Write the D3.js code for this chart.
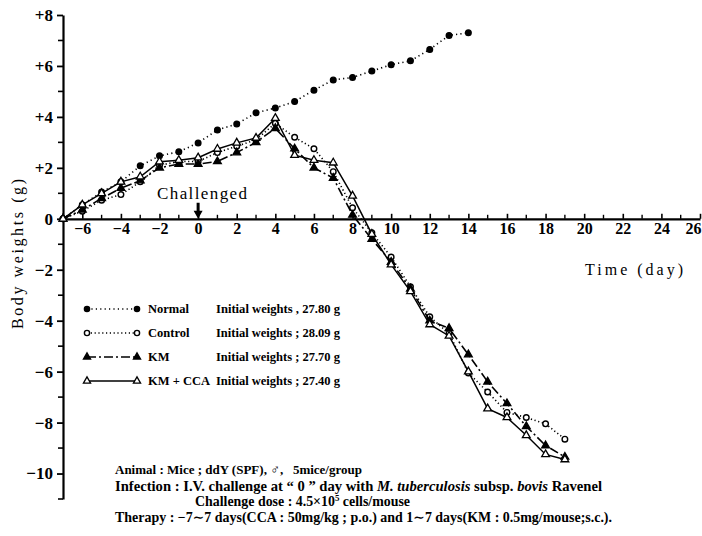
<!DOCTYPE html>
<html><head><meta charset="utf-8">
<script src="https://cdn.jsdelivr.net/npm/d3@7"></script>
<style>body{margin:0;background:#fff}svg{display:block}</style>
</head><body>
<svg id="c" width="702" height="536"></svg>
<script>
// ---------------- data ----------------
const daysNormal = [-7,-6,-5,-4,-3,-2,-1,0,1,2,3,4,5,6,7,8,9,10,11,12,13,14];
const normal     = [0,0.55,1.05,1.45,2.08,2.47,2.63,2.98,3.49,3.72,4.16,4.35,4.6,5.05,5.45,5.55,5.8,6.05,6.2,6.65,7.2,7.3];
const daysInf    = [-7,-6,-5,-4,-3,-2,-1,0,1,2,3,4,5,6,7,8,9,10,11,12,13,14,15,16,17,18,19];
const control    = [0,0.3,0.73,0.95,1.45,2.1,2.25,2.25,2.6,2.85,3.1,3.75,3.2,2.75,1.85,0.43,-0.55,-1.5,-2.67,-3.85,-4.5,-6.05,-6.8,-7.6,-7.8,-8.05,-8.65];
const km         = [0,0.35,0.8,1.2,1.5,2.0,2.15,2.15,2.25,2.6,3.0,3.55,2.75,2.0,1.6,0.15,-0.8,-1.7,-2.75,-4.0,-4.3,-5.33,-6.4,-7.25,-8.15,-8.9,-9.35];
const kmcca      = [0,0.55,1.0,1.45,1.65,2.24,2.3,2.4,2.74,2.98,3.17,3.95,2.5,2.3,2.2,0.9,-0.6,-1.8,-2.85,-4.15,-4.6,-6.0,-7.45,-7.8,-8.5,-9.25,-9.45];

const yTickValues = [8,6,4,2,0,-2,-4,-6,-8,-10];
const yMinorTicks = [7,5,3,1,-1,-3,-5,-7,-9,-11];
const xTickValues = [-6,-4,-2,0,2,4,6,8,10,12,14,16,18,20,22,24,26];
const xMinorTicks = [-7,-5,-3,-1,1,3,5,7,9,11,13,15,17,19,21,23,25];

const seriesNames   = ["Normal","Control","KM","KM + CCA"];
const seriesWeights = ["Initial weights , 27.80 g","Initial weights ; 28.09 g","Initial weights ; 27.70 g","Initial weights ; 27.40 g"];

const yTitle = "Body weights (g)";
const xTitle = "Time (day)";
const eventLabel = "Challenged";
const eventDay = 0;

// ---------------- drawing ----------------
const svg = d3.select("#c");
const serif = "'Liberation Serif','DejaVu Serif',serif";
const x = d3.scaleLinear().domain([-7, 26]).range([63, 700]);
const y = d3.scaleLinear().domain([-11, 8]).range([499, 15]);

const series = [
  {name: seriesNames[0], w: seriesWeights[0], days: daysNormal, vals: normal, dash: "1.2,3.2", marker: "circle", fill: "#000"},
  {name: seriesNames[1], w: seriesWeights[1], days: daysInf, vals: control, dash: "1.2,2.6", marker: "circle", fill: "#fff"},
  {name: seriesNames[2], w: seriesWeights[2], days: daysInf, vals: km, dash: "9,3,2,3", marker: "triangle", fill: "#000"},
  {name: seriesNames[3], w: seriesWeights[3], days: daysInf, vals: kmcca, dash: null, marker: "triangle", fill: "#fff"}
];

// Y axis
const yAxis = d3.axisLeft(y).tickValues(yTickValues).tickSizeInner(6).tickSizeOuter(0)
  .tickFormat(d => d > 0 ? "+" + d : (d < 0 ? "\u2212" + Math.abs(d) : "0"));
const gy = svg.append("g").attr("transform", `translate(${x(-7)},0)`).call(yAxis);
gy.select(".domain").attr("stroke-width", 2.2);
gy.selectAll(".tick line").attr("stroke-width", 1.8);
gy.selectAll(".tick text").attr("font-family", serif).attr("font-weight", "bold")
  .attr("font-size", 17).attr("fill", "#000").attr("x", -10);
gy.selectAll(".minor").data(yMinorTicks).enter().append("line")
  .attr("x1", -5).attr("x2", 0).attr("y1", d => y(d)).attr("y2", d => y(d))
  .attr("stroke", "#000").attr("stroke-width", 1.6);

// X axis at 0
const xAxis = d3.axisBottom(x).tickValues(xTickValues).tickSizeInner(-5).tickSizeOuter(0)
  .tickFormat(d => d < 0 ? "\u2212" + Math.abs(d) : String(d));
const gx = svg.append("g").attr("transform", `translate(0,${y(0)})`).call(xAxis);
gx.select(".domain").attr("stroke-width", 2.2);
gx.selectAll(".tick line").attr("stroke-width", 1.6);
gx.selectAll(".tick text").attr("font-family", serif).attr("font-weight", "bold")
  .attr("font-size", 16).attr("fill", "#000").attr("y", 4)
  .attr("text-anchor", d => d === 26 ? "end" : "middle")
  .attr("x", d => d === 26 ? 701 - x(26) : 0);
gx.selectAll(".minor").data(xMinorTicks).enter().append("line")
  .attr("x1", d => x(d)).attr("x2", d => x(d)).attr("y1", -4).attr("y2", 0)
  .attr("stroke", "#000").attr("stroke-width", 1.4);

// Titles
svg.append("text").attr("transform", `translate(23,${254}) rotate(-90)`)
  .attr("text-anchor", "middle").attr("font-family", serif).attr("font-size", 16)
  .attr("textLength", 150).attr("lengthAdjust", "spacing").text(yTitle);
svg.append("text").attr("x", 585).attr("y", 275).attr("font-family", serif)
  .attr("font-size", 16).attr("textLength", 98).attr("lengthAdjust", "spacing").text(xTitle);

// Challenged label + arrow
svg.append("text").attr("x", 157).attr("y", 199).attr("font-family", serif).attr("font-size", 17)
  .attr("textLength", 90).attr("lengthAdjust", "spacing").text(eventLabel);
const ax = x(eventDay), ay = y(0);
svg.append("path")
  .attr("d", `M${ax-1.5},${ay-16} L${ax+1.5},${ay-16} L${ax+1.5},${ay-8} L${ax+4.5},${ay-8} L${ax},${ay} L${ax-4.5},${ay-8} L${ax-1.5},${ay-8} Z`)
  .attr("fill", "#000");

// Markers
function drawMarker(g, s, px, py, small) {
  if (s.marker === "circle") {
    g.append("circle").attr("cx", px).attr("cy", py).attr("r", small ? 2.6 : 2.8)
      .attr("fill", s.fill).attr("stroke", "#000").attr("stroke-width", 1.4);
  } else {
    g.append("path").attr("d", d3.symbol().type(d3.symbolTriangle).size(small ? 22 : 26)())
      .attr("transform", `translate(${px},${py})`)
      .attr("fill", s.fill).attr("stroke", "#000").attr("stroke-width", 1.3);
  }
}

// Lines
const line = d3.line().x(d => x(d[0])).y(d => y(d[1]));
series.forEach(s => {
  const pts = s.days.map((d, i) => [d, s.vals[i]]);
  const g = svg.append("g");
  g.append("path").attr("d", line(pts)).attr("fill", "none").attr("stroke", "#000")
    .attr("stroke-width", s.dash ? 1.6 : 1.5).attr("stroke-dasharray", s.dash);
  pts.forEach(p => drawMarker(g, s, x(p[0]), y(p[1]), false));
});

// Legend
const legY = [309, 333, 357, 381];
series.forEach((s, i) => {
  const g = svg.append("g");
  g.append("line").attr("x1", 87).attr("x2", 137).attr("y1", legY[i]).attr("y2", legY[i])
    .attr("stroke", "#000").attr("stroke-width", 1.6).attr("stroke-dasharray", s.dash);
  drawMarker(g, s, 87, legY[i], true);
  drawMarker(g, s, 137, legY[i], true);
  g.append("text").attr("x", 148).attr("y", legY[i] + 4).attr("font-family", serif)
    .attr("font-weight", "bold").attr("font-size", 12.5).text(s.name);
  g.append("text").attr("x", 216).attr("y", legY[i] + 4).attr("font-family", serif)
    .attr("font-weight", "bold").attr("font-size", 12.5)
    .attr("textLength", 124).attr("lengthAdjust", "spacingAndGlyphs").text(s.w);
});

// Notes
const notes = svg.append("g").attr("font-family", serif).attr("font-size", 14).attr("font-weight", "bold");
notes.append("text").attr("x", 115).attr("y", 474).attr("font-size", 13)
  .style("white-space", "pre")
  .text("Animal : Mice ; ddY (SPF), \u2642,   5mice/group");
const n2 = notes.append("text").attr("x", 115).attr("y", 491).attr("textLength", 487).attr("lengthAdjust", "spacingAndGlyphs");
n2.append("tspan").text("Infection : I.V. challenge at \u201C 0 \u201D day with ");
n2.append("tspan").attr("font-style", "italic").text("M. tuberculosis");
n2.append("tspan").text(" subsp. ");
n2.append("tspan").attr("font-style", "italic").text("bovis");
n2.append("tspan").text(" Ravenel");
const n3 = notes.append("text").attr("x", 195).attr("y", 506).attr("textLength", 215).attr("lengthAdjust", "spacingAndGlyphs");
n3.append("tspan").text("Challenge dose : 4.5\u00D710");
n3.append("tspan").attr("dy", -5).attr("font-size", 9).text("5");
n3.append("tspan").attr("dy", 5).text(" cells/mouse");
notes.append("text").attr("x", 115).attr("y", 522).attr("textLength", 497).attr("lengthAdjust", "spacingAndGlyphs")
  .text("Therapy : \u22127\u223C7 days(CCA : 50mg/kg ; p.o.) and 1\u223C7 days(KM : 0.5mg/mouse;s.c.).");
</script>
</body></html>
